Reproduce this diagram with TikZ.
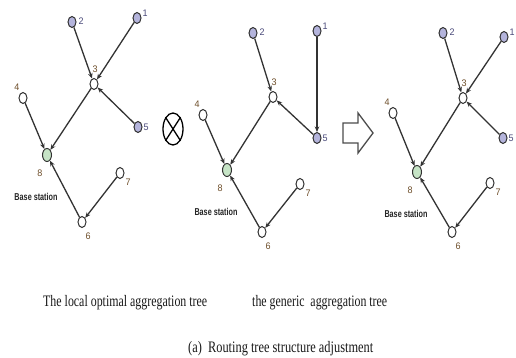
\documentclass[tikz,border=0pt]{standalone}
\usepackage{fontspec}
\setmainfont{Liberation Serif}
\newfontfamily\labelfont{Liberation Sans}
\usetikzlibrary{arrows.meta,shapes.geometric}

\definecolor{lav}{HTML}{B4B4DC}
\definecolor{sinkgreen}{HTML}{C6E4C6}
\definecolor{numwarm}{HTML}{6E4E2A}
\definecolor{numcool}{HTML}{4A4A7A}
\definecolor{edgegray}{HTML}{333333}

\tikzset{
  sensor/.style={ellipse, draw=edgegray, line width=1pt, fill=white,
    inner sep=0pt, minimum width=8pt, minimum height=11pt},
  source/.style={sensor, fill=lav},
  sink/.style={sensor, fill=sinkgreen, minimum width=9pt, minimum height=13pt},
  link/.style={draw=edgegray, line width=1.3pt, -{Stealth[length=5.5pt,width=4.5pt]}},
  num/.style={font=\labelfont\fontsize{9.5}{10}\selectfont, inner sep=0pt, text=numwarm},
  numc/.style={num, text=numcool},
  bs/.style={font=\labelfont\bfseries\fontsize{10}{10}\selectfont, inner sep=0pt, text=black!85},
  caption/.style={font=\fontsize{16}{18}\selectfont, inner sep=0pt, text=black!90},
}

\newcommand{\squeeze}[2]{\resizebox{#1}{\height}{#2}}

\begin{document}
\begin{tikzpicture}[x=1pt,y=-1pt]
\fill[white] (0,0) rectangle (516,358);
\useasboundingbox (0,0) rectangle (516,358);

% ---------- local optimal aggregation tree ----------
\node[source] (a2) at (72,22) {};
\node[source] (a1) at (137,18) {};
\node[sensor] (a3) at (94,84) {};
\node[sensor] (a4) at (23,98) {};
\node[source] (a5) at (138,127) {};
\node[sink]   (a8) at (47,155) {};
\node[sensor] (a7) at (120,173) {};
\node[sensor] (a6) at (82,222) {};
\path (a2) ++(9,-1)  node[numc] (a2l) {\squeeze{5pt}{2}};
\path (a1) ++(8,-5)  node[numc] (a1l) {\squeeze{5pt}{1}};
\path (a3) ++(1,-15) node[num]  (a3l) {\squeeze{5pt}{3}};
\path (a4) ++(-6,-11) node[num] (a4l) {\squeeze{5pt}{4}};
\path (a5) ++(8,0)   node[numc] (a5l) {\squeeze{5pt}{5}};
\path (a8) ++(-7,18) node[num]  (a8l) {\squeeze{5pt}{8}};
\path (a7) ++(8,9)   node[num]  (a7l) {\squeeze{5pt}{7}};
\path (a6) ++(6,14)  node[num]  (a6l) {\squeeze{5pt}{6}};
\path (a8) ++(-11,42) node[bs] (abs) {\squeeze{43pt}{Base station}};
\draw[link] (a2) -- (a3);
\draw[link] (a1) -- (a3);
\draw[link] (a5) -- (a3);
\draw[link] (a3) -- (a8);
\draw[link] (a4) -- (a8);
\draw[link] (a6) -- (a8);
\draw[link] (a7) -- (a6);

% ---------- combination operator ----------
\node[ellipse, draw=black, line width=1.3pt, minimum width=20pt, minimum height=32pt, inner sep=0pt] (otimes) at (173,129) {};
\draw[line width=1.3pt] (otimes.north west) -- (otimes.south east);
\draw[line width=1.3pt] (otimes.north east) -- (otimes.south west);

% ---------- generic aggregation tree ----------
\node[source] (b2) at (253,33) {};
\node[source] (b1) at (317,31) {};
\node[sensor] (b3) at (273,97) {};
\node[sensor] (b4) at (203,115) {};
\node[source] (b5) at (317,138) {};
\node[sink]   (b8) at (227,170) {};
\node[sensor] (b7) at (300,184) {};
\node[sensor] (b6) at (262,232) {};
\path (b2) ++(9,-1)  node[numc] (b2l) {\squeeze{5pt}{2}};
\path (b1) ++(8,-5)  node[numc] (b1l) {\squeeze{5pt}{1}};
\path (b3) ++(1,-15) node[num]  (b3l) {\squeeze{5pt}{3}};
\path (b4) ++(-6,-11) node[num] (b4l) {\squeeze{5pt}{4}};
\path (b5) ++(8,0)   node[numc] (b5l) {\squeeze{5pt}{5}};
\path (b8) ++(-7,18) node[num]  (b8l) {\squeeze{5pt}{8}};
\path (b7) ++(8,9)   node[num]  (b7l) {\squeeze{5pt}{7}};
\path (b6) ++(6,14)  node[num]  (b6l) {\squeeze{5pt}{6}};
\path (b8) ++(-11,42) node[bs] (bbs) {\squeeze{43pt}{Base station}};
\draw[link] (b2) -- (b3);
\draw[link] (b1) -- (b5);
\draw[link] (b5) -- (b3);
\draw[link] (b3) -- (b8);
\draw[link] (b4) -- (b8);
\draw[link] (b6) -- (b8);
\draw[link] (b7) -- (b6);

% ---------- result arrow ----------
\draw[draw=black!70, line width=1.3pt, fill=white, line join=miter]
  (343,123) -- (358,123) -- (358,113) -- (373,133) -- (358,153) -- (358,143) -- (343,143) -- cycle;

% ---------- adjusted tree ----------
\node[source] (c2) at (443,33) {};
\node[source] (c1) at (504,37) {};
\node[sensor] (c3) at (463,98) {};
\node[sensor] (c4) at (393,113) {};
\node[source] (c5) at (503,138) {};
\node[sink]   (c8) at (417,172) {};
\node[sensor] (c7) at (490,183) {};
\node[sensor] (c6) at (452,232) {};
\path (c2) ++(9,-1)  node[numc] (c2l) {\squeeze{5pt}{2}};
\path (c1) ++(8,-5)  node[numc] (c1l) {\squeeze{5pt}{1}};
\path (c3) ++(1,-15) node[num]  (c3l) {\squeeze{5pt}{3}};
\path (c4) ++(-6,-11) node[num] (c4l) {\squeeze{5pt}{4}};
\path (c5) ++(8,0)   node[numc] (c5l) {\squeeze{5pt}{5}};
\path (c8) ++(-7,18) node[num]  (c8l) {\squeeze{5pt}{8}};
\path (c7) ++(8,9)   node[num]  (c7l) {\squeeze{5pt}{7}};
\path (c6) ++(6,14)  node[num]  (c6l) {\squeeze{5pt}{6}};
\path (c8) ++(-11,42) node[bs] (cbs) {\squeeze{43pt}{Base station}};
\draw[link] (c2) -- (c3);
\draw[link] (c1) -- (c3);
\draw[link] (c5) -- (c3);
\draw[link] (c3) -- (c8);
\draw[link] (c4) -- (c8);
\draw[link] (c6) -- (c8);
\draw[link] (c7) -- (c6);

% ---------- captions ----------
\node[caption, anchor=base west] (capa) at (43,306) {\squeeze{164pt}{The local optimal aggregation tree}};
\node[caption, anchor=base west] (capb) at (252,306) {\squeeze{135pt}{the generic\ \ aggregation tree}};
\node[caption, anchor=base west] (capc) at (188,352) {\squeeze{185pt}{(a)\ \ Routing tree structure adjustment}};
\end{tikzpicture}
\end{document}
